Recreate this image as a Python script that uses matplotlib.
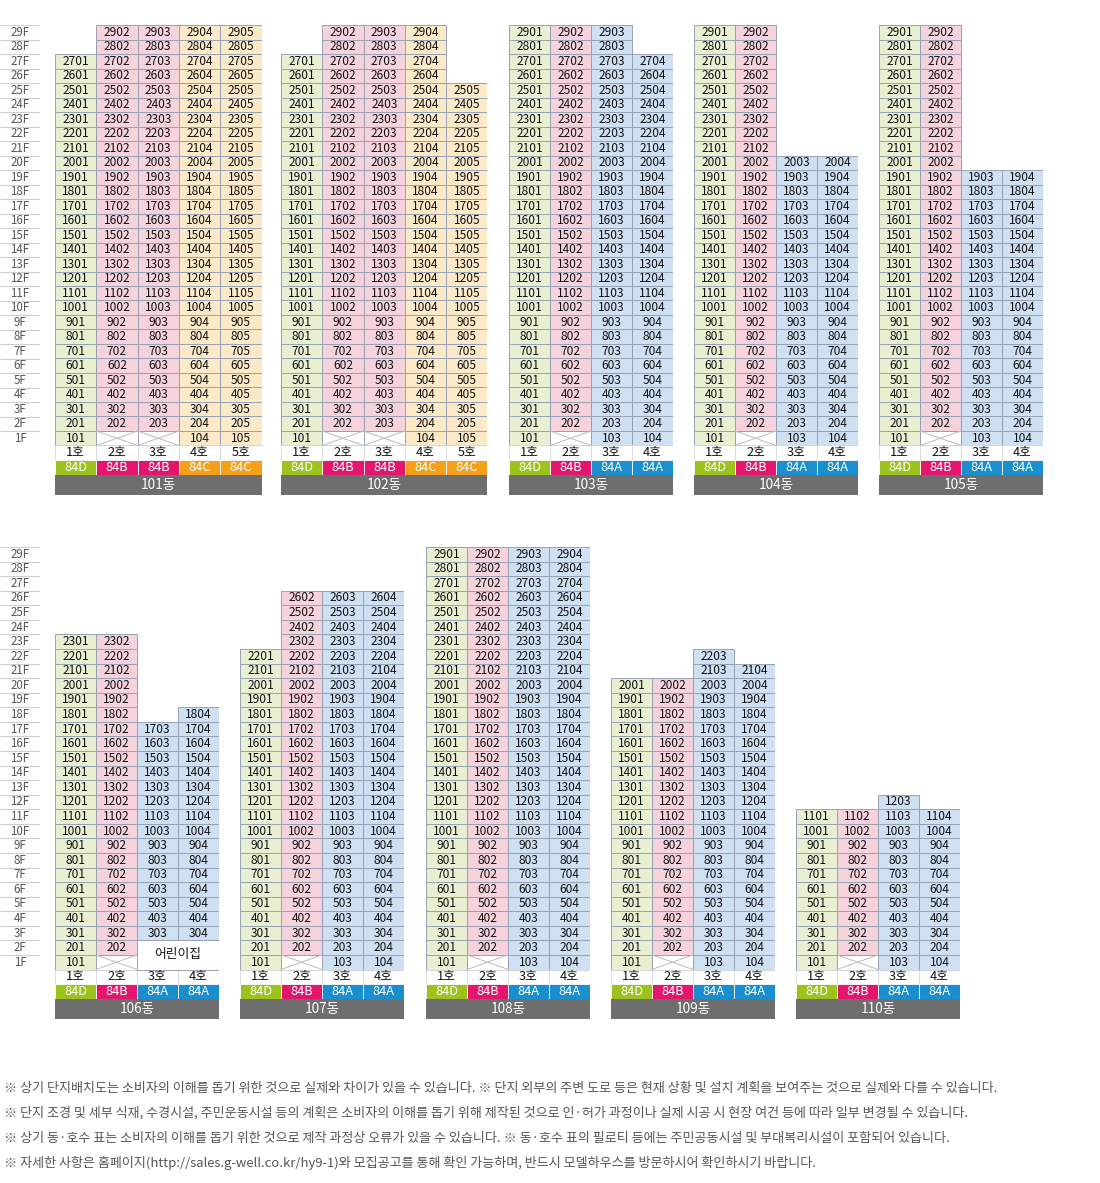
import matplotlib
matplotlib.use("Agg")
import matplotlib.pyplot as plt
from matplotlib.patches import Rectangle

plt.rcParams['font.family'] = ['Noto Sans CJK KR', 'DejaVu Sans']

W, H = 1100, 1183

# ---- data -------------------------------------------------------------
DONG = ["101동", "102동", "103동", "104동", "105동",
        "106동", "107동", "108동", "109동", "110동"]
HO = ["1호", "2호", "3호", "4호", "5호"]
FLOORS = ["29F", "28F", "27F", "26F", "25F", "24F", "23F", "22F", "21F", "20F",
          "19F", "18F", "17F", "16F", "15F", "14F", "13F", "12F", "11F", "10F",
          "9F", "8F", "7F", "6F", "5F", "4F", "3F", "2F", "1F"]
# highest floor of each line (호) per building
TOP_FLOOR = [
    [27, 29, 29, 29, 29],
    [27, 29, 29, 29, 25],
    [29, 29, 29, 27],
    [29, 29, 20, 20],
    [29, 29, 19, 19],
    [23, 23, 17, 18],
    [22, 26, 26, 26],
    [29, 29, 29, 29],
    [20, 20, 22, 21],
    [11, 11, 12, 11],
]
UNIT_TYPE = [
    ["84D", "84B", "84B", "84C", "84C"],
    ["84D", "84B", "84B", "84C", "84C"],
    ["84D", "84B", "84A", "84A"],
    ["84D", "84B", "84A", "84A"],
    ["84D", "84B", "84A", "84A"],
    ["84D", "84B", "84A", "84A"],
    ["84D", "84B", "84A", "84A"],
    ["84D", "84B", "84A", "84A"],
    ["84D", "84B", "84A", "84A"],
    ["84D", "84B", "84A", "84A"],
]
# lines whose 1F is piloti (no unit)
PILOTI = [[2, 3], [2, 3], [2], [2], [2], [2], [2], [2], [2], [2]]
# 106동 daycare occupies lines 3-4 on floors 1-2
DAYCARE_DONG = "106동"
DAYCARE_LINES = [3, 4]
DAYCARE_FLOORS = [1, 2]
DAYCARE_LABEL = "어린이집"

NOTES = [
    "※ 상기 단지배치도는 소비자의 이해를 돕기 위한 것으로 실제와 차이가 있을 수 있습니다. ※ 단지 외부의 주변 도로 등은 현재 상황 및 설치 계획을 보여주는 것으로 실제와 다를 수 있습니다.",
    "※ 단지 조경 및 세부 식재, 수경시설, 주민운동시설 등의 계획은 소비자의 이해를 돕기 위해 제작된 것으로 인·허가 과정이나 실제 시공 시 현장 여건 등에 따라 일부 변경될 수 있습니다.",
    "※ 상기 동·호수 표는 소비자의 이해를 돕기 위한 것으로 제작 과정상 오류가 있을 수 있습니다. ※ 동·호수 표의 필로티 등에는 주민공동시설 및 부대복리시설이 포함되어 있습니다.",
    "※ 자세한 사항은 홈페이지(http://sales.g-well.co.kr/hy9-1)와 모집공고를 통해 확인 가능하며, 반드시 모델하우스를 방문하시어 확인하시기 바랍니다.",
]

# ---- styles / layout --------------------------------------------------
CELL_COLOR = {"84D": "#E9F0D2", "84B": "#F6D3DC", "84C": "#FCE9C7", "84A": "#CFE0F2"}
TYPE_COLOR = {"84D": "#9CC31B", "84B": "#E4156D", "84C": "#F6A01A", "84A": "#1A8FD0"}
EDGE = "#97A2B4"
BAR = "#6E6E6E"

ROW_LEFT = [[55, 281, 509, 694, 879], [55, 240, 426, 611, 796]]
ROW_BASE = [445.5, 969.5]      # pixel y of the bottom of 1F
ROW_FH = [14.5, 14.57]         # pixel height of one floor
COL_W = {5: 41.3, 4: 41.0}
Y_TOP, Y_BOT = 29, -3.42       # axis range in floor units
TYPE_TOP, TYPE_BOT = -1.0, -2.05

fig = plt.figure(figsize=(W / 100, H / 100), dpi=100)
fig.patch.set_facecolor("white")


def add_px_axes(left, top, width, height):
    ax = fig.add_axes([left / W, 1 - (top + height) / H, width / W, height / H])
    ax.axis("off")
    return ax


def draw_floor_labels(row):
    base, fh = ROW_BASE[row], ROW_FH[row]
    top = base - Y_TOP * fh
    ax = add_px_axes(0, top, 40, Y_TOP * fh)
    ax.set_xlim(0, 40)
    ax.set_ylim(0, Y_TOP)
    ax.hlines(range(0, 30), 0, 40, color="#CFCFCF", lw=0.8)
    for i, lab in enumerate(FLOORS):
        f = 29 - i
        ax.text(20, f - 0.5, lab, ha="center", va="center", fontsize=8.3, color="#555555")


def draw_building(b):
    row = 0 if b < 5 else 1
    n = len(TOP_FLOOR[b])
    cw = COL_W[n]
    base, fh = ROW_BASE[row], ROW_FH[row]
    left = ROW_LEFT[row][b % 5]
    top = base - Y_TOP * fh
    ax = add_px_axes(left, top, n * cw, (Y_TOP - Y_BOT) * fh)
    ax.set_xlim(0, n)
    ax.set_ylim(Y_BOT, Y_TOP)

    daycare = DONG[b] == DAYCARE_DONG
    for c in range(n):
        line = c + 1
        utype = UNIT_TYPE[b][c]
        for f in range(1, TOP_FLOOR[b][c] + 1):
            if daycare and line in DAYCARE_LINES and f in DAYCARE_FLOORS:
                continue
            if f == 1 and line in PILOTI[b]:
                ax.add_patch(Rectangle((c, 0), 1, 1, facecolor="white",
                                       edgecolor=EDGE, lw=0.7))
                ax.plot([c, c + 1], [0, 1], color="#BBBBBB", lw=0.7)
                ax.plot([c, c + 1], [1, 0], color="#BBBBBB", lw=0.7)
                continue
            ax.add_patch(Rectangle((c, f - 1), 1, 1, facecolor=CELL_COLOR[utype],
                                   edgecolor=EDGE, lw=0.7))
            ax.text(c + 0.5, f - 0.5, f"{f}{line:02d}", ha="center", va="center",
                    fontsize=8.6, color="#111111")
        # 호 row
        ax.add_patch(Rectangle((c, -1), 1, 1, facecolor="white",
                               edgecolor="#D8D8D8", lw=0.6))
        ax.text(c + 0.5, -0.5, HO[c], ha="center", va="center",
                fontsize=9.2, color="#111111")
        # type row
        ax.add_patch(Rectangle((c, TYPE_BOT), 1, TYPE_TOP - TYPE_BOT,
                               facecolor=TYPE_COLOR[utype], edgecolor="white", lw=0.6))
        ax.text(c + 0.5, (TYPE_TOP + TYPE_BOT) / 2, utype, ha="center", va="center",
                fontsize=9.2, color="white")

    if daycare:
        c0 = DAYCARE_LINES[0] - 1
        f0 = DAYCARE_FLOORS[0] - 1
        ax.add_patch(Rectangle((c0, f0), len(DAYCARE_LINES), len(DAYCARE_FLOORS),
                               facecolor="white", edgecolor=EDGE, lw=0.7))
        ax.text(c0 + len(DAYCARE_LINES) / 2, f0 + len(DAYCARE_FLOORS) / 2, DAYCARE_LABEL,
                ha="center", va="center", fontsize=9.2, color="#111111")

    ax.add_patch(Rectangle((0, Y_BOT), n, TYPE_BOT - Y_BOT, facecolor=BAR, edgecolor="none"))
    ax.text(n / 2, (TYPE_BOT + Y_BOT) / 2, DONG[b], ha="center", va="center",
            fontsize=9.8, color="white")


for r in range(2):
    draw_floor_labels(r)
for b in range(len(DONG)):
    draw_building(b)

for i, note in enumerate(NOTES):
    y = 1088 + i * 25
    fig.text(4 / W, 1 - y / H, note, ha="left", va="center", fontsize=9.4, color="#555555")

fig.savefig("out.png", dpi=100)
